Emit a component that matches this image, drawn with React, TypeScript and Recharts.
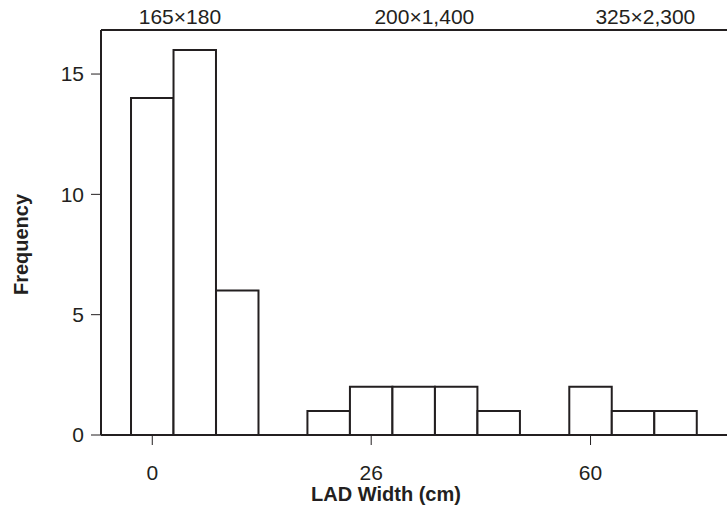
import { ComposedChart, Bar, XAxis, YAxis } from "recharts";

const groupLabels = ["165×180", "200×1,400", "325×2,300"];
const groupCounts = [
  [14, 16, 6],
  [1, 2, 2, 2, 1],
  [2, 1, 1],
];
const xTickLabels = ["0", "26", "60"];
const yTicks = [0, 5, 10, 15];

// layout, in units of one bin width
const groupStart = [0, 4.15, 10.31];
const tickBin = [0, 1, 0];
const topLabelPos = [1.15, 6.9, 12.1];
const X_MIN = -0.706;
const X_MAX = 14.02;
const Y_MAX = 16.83;

const INK = "#231f20";
const FONT = "'Liberation Sans', Arial, sans-serif";
const W = 727;
const H = 527;
const LEFT = 101;

const data = groupCounts.flatMap((counts, g) =>
  counts.map((count, i) => ({ x: groupStart[g] + i + 0.5, count }))
);
const xTicks = tickBin.map((b, g) => groupStart[g] + b + 0.5);
// a hair under the bin spacing, otherwise recharts shrinks bars to 90%
const barSize = (W - LEFT) / (X_MAX - X_MIN) - 0.05;

const tickStyle = { fill: INK, fontSize: 21, fontFamily: FONT };
const labelStyle = { fill: INK, fontSize: 20, fontWeight: "bold", fontFamily: FONT };

export default function App() {
  return (
    <div style={{ position: "absolute", left: 0, top: 0, background: "#fff" }}>
      <ComposedChart
        width={W}
        height={H}
        data={data}
        margin={{ top: 0, right: 0, bottom: 0, left: 0 }}
        barGap={0}
        barCategoryGap={0}
        style={{ fontFamily: FONT }}
      >
        <XAxis
          xAxisId="top"
          orientation="top"
          type="number"
          dataKey="x"
          domain={[X_MIN, X_MAX]}
          allowDataOverflow
          ticks={topLabelPos}
          interval={0}
          tickFormatter={(_v, i) => groupLabels[i]}
          height={30}
          tickLine={false}
          tickSize={0}
          tickMargin={6}
          axisLine={{ stroke: INK, strokeWidth: 2 }}
          tick={tickStyle}
        />
        <XAxis
          xAxisId="bottom"
          type="number"
          dataKey="x"
          domain={[X_MIN, X_MAX]}
          allowDataOverflow
          ticks={xTicks}
          interval={0}
          tickFormatter={(_v, i) => xTickLabels[i]}
          height={92}
          tickSize={10}
          tickMargin={20}
          axisLine={{ stroke: INK, strokeWidth: 2 }}
          tickLine={{ stroke: INK, strokeWidth: 1 }}
          tick={tickStyle}
          label={{
            value: "LAD Width (cm)",
            position: "center",
            dx: -28,
            dy: 13,
            style: labelStyle,
          }}
        />
        <YAxis
          type="number"
          domain={[0, Y_MAX]}
          allowDataOverflow
          ticks={yTicks}
          interval={0}
          width={LEFT}
          tickSize={10}
          tickMargin={7}
          axisLine={{ stroke: INK, strokeWidth: 2 }}
          tickLine={{ stroke: INK, strokeWidth: 1 }}
          tick={tickStyle}
          label={{
            value: "Frequency",
            angle: -90,
            position: "center",
            dx: -30,
            dy: 12,
            style: labelStyle,
          }}
        />
        <Bar
          xAxisId="bottom"
          dataKey="count"
          barSize={barSize}
          fill="#fff"
          stroke={INK}
          strokeWidth={2}
          isAnimationActive={false}
        />
      </ComposedChart>
    </div>
  );
}
